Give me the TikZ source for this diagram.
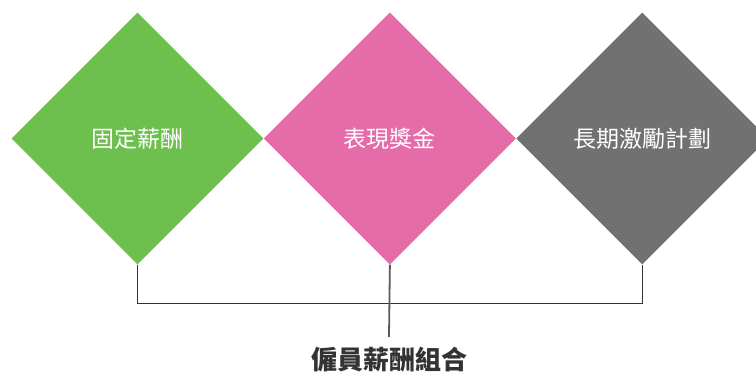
\documentclass[tikz,border=0pt]{standalone}
\usepackage{fontspec}
\setmainfont{Noto Sans CJK TC}
\usetikzlibrary{shapes.geometric,positioning}
\definecolor{verde}{HTML}{6DBF4E}
\definecolor{rosa}{HTML}{E66BA9}
\definecolor{gris}{HTML}{707170}
\definecolor{linea}{HTML}{333333}

\begin{document}
\begin{tikzpicture}[x=1pt,y=1pt,
  pieza/.style={diamond,aspect=1,inner sep=0pt,minimum width=252pt,minimum height=252pt,text=white,font=\fontsize{23}{27}\selectfont},
  brazo/.style={draw=linea,line width=1.2pt}]
\useasboundingbox (0,0) rectangle (756,372);
\node[pieza,fill=verde] (fijo) at (137.5,233.5) {固定薪酬};
\node[pieza,fill=rosa,right=0pt of fijo] (bono) {表現獎金};
\node[pieza,fill=gris,right=0pt of bono] (largo) {長期激勵計劃};
\node[font=\fontsize{26}{30}\bfseries\selectfont,text=linea] (total) at (389,12) {僱員薪酬組合};
\coordinate (fin) at (389,35);
\draw[brazo] (fijo.south) -- ++(0,-38.5) -| (largo.south);
\draw[brazo,draw=gris!80!black,line width=1.8pt] (bono.south) -- (fin);
\end{tikzpicture}
\end{document}
